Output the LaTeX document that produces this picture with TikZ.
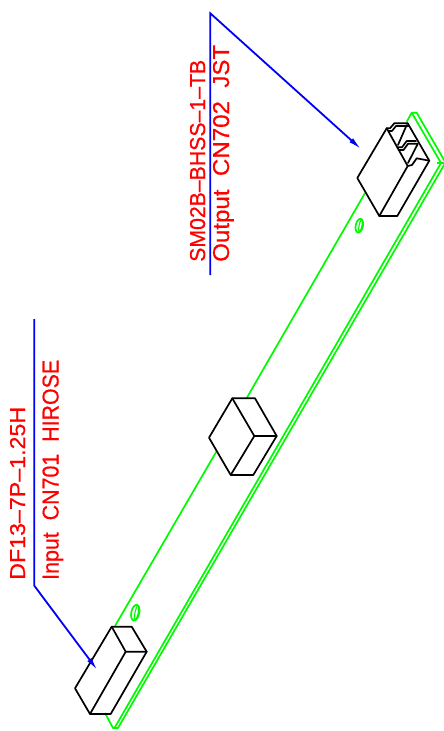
\documentclass[tikz,border=0pt]{standalone}
\usepackage{fontspec}
\setmainfont[FakeBold=0.6]{Liberation Sans}
\usetikzlibrary{arrows.meta}
\definecolor{cadgreen}{RGB}{0,250,0}
\definecolor{cadblue}{RGB}{0,0,245}
\definecolor{cadred}{RGB}{255,0,0}
\tikzset{
  board/.style={draw=cadgreen,line width=1.7pt,line join=round},
  part/.style={draw=black,line width=1.7pt,line join=round,line cap=round},
  leader/.style={draw=cadblue,line width=1.8pt,-{Latex[length=13pt,width=5.5pt]}},
  label/.style={text=cadred,rotate=90,anchor=base west,inner sep=0pt},
}
\begin{document}
\begin{tikzpicture}[x=1pt,y=-1pt]
\useasboundingbox (0,0) rectangle (444,731);
% board
\draw[board] (105,713) -- (113,728) -- (118,728) -- (445.5,162.5) -- (416.7,112.7) -- (411.7,112.7) -- (406.7,121.7);
\draw[board] (114.5,728) -- (441,163) -- (411.7,112.7);
\draw[board] (437,163) -- (445.5,163);
\draw[board] (115,626) -- (216.7,451);
\draw[board] (246.7,398) -- (365,193);
\draw[board,rotate around={-12:(135.3,612.7)}] (135.3,612.7) ellipse (4 and 8);
\draw[board,line width=1.1pt,rotate around={-12:(136.6,612.7)}] (136.6,612.7) ellipse (1.6 and 7.4);
\draw[board,rotate around={-12:(359.3,225.7)}] (359.3,225.7) ellipse (3.6 and 7);
\draw[board,line width=1.1pt,rotate around={-12:(360.5,225.7)}] (360.5,225.7) ellipse (1.4 and 6.4);
% left connector
\coordinate (la) at (111.7,626.7);
\coordinate (lb) at (131.7,626.7);
\coordinate (lc) at (146.7,651.7);
\coordinate (ld) at (125.7,651.7);
\coordinate (le) at (75,688.3);
\coordinate (lf) at (90,714);
\coordinate (lg) at (110.7,714);
\draw[part] (la) -- (lb) -- (lc) -- (lg) -- (lf) -- (le) -- cycle;
\draw[part] (la) -- (ld) -- (lc) (ld) -- (lf);
% middle connector
\coordinate (ma) at (232.3,398.3);
\coordinate (mb) at (255,398.3);
\coordinate (mc) at (276.7,436);
\coordinate (md) at (254.3,436);
\coordinate (me) at (209,437.7);
\coordinate (mf) at (230.7,475);
\coordinate (mg) at (253.3,475);
\draw[part] (ma) -- (mb) -- (mc) -- (mg) -- (mf) -- (me) -- cycle;
\draw[part] (ma) -- (md) -- (mc) (md) -- (mf);
% right connector
\coordinate (ra) at (386.7,128.3);
\coordinate (rb) at (407.7,123.3);
\coordinate (rc) at (429.3,160.7);
\coordinate (rd) at (407.7,166);
\coordinate (re) at (357.3,178);
\coordinate (rf) at (379.3,216);
\coordinate (rg) at (397.3,216);
\draw[part] (ra) -- (re) -- (rf) -- (rg) -- (rc) -- (rb);
\draw[part] (ra) -- (rd) -- (rf);
\draw[part] (ra) -- (390,128.3) -- (394.3,123.3) -- (rb);
\draw[part] (389,131) -- (392,131) -- (396,126) -- (409,126);
\draw[part] (397.3,147.3) -- (402,147.3) -- (406.7,141) -- (416,141);
\draw[part] (398.5,150) -- (403.5,150) -- (408,143.8) -- (417.5,143.8);
\draw[part] (rd) -- (412,165) -- (416.7,158.3) -- (rc);
\draw[part] (406.7,125) -- (398,145);
\draw[part] (417.7,144) -- (408,163);
% leaders
\coordinate (l1) at (34.3,319);
\coordinate (l2) at (34.3,585.7);
\coordinate (l3) at (97.3,670);
\coordinate (r1) at (210.3,275);
\coordinate (r2) at (210.3,13.3);
\coordinate (r3) at (361,149);
\draw[leader] (l1) -- (l2) -- (l3);
\draw[leader] (r1) -- (r2) -- (r3);
% labels
\node[label] (t1) at (25,580) {\resizebox{173pt}{15pt}{DF13–7P–1.25H}};
\node[label] (t2) at (58.5,580) {\resizebox{220pt}{16pt}{Input\ \ CN701\ \ HIROSE}};
\node[label] (t3) at (205,262) {\resizebox{202pt}{15pt}{SM02B–BHSS–1–TB}};
\node[label] (t4) at (229,262) {\resizebox{217pt}{16pt}{Output\ \ CN702\ \ JST}};
\end{tikzpicture}
\end{document}
